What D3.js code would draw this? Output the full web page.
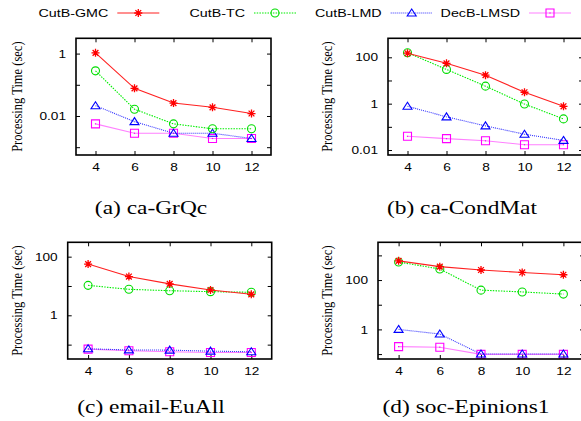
<!DOCTYPE html>
<html>
<head>
<meta charset="utf-8">
<script src="https://cdn.jsdelivr.net/npm/d3@7"></script>
<style>
body { margin: 0; background: white; }
svg { display: block; }
</style>
</head>
<body>
<svg id="chart" width="581" height="421"></svg>
<script>
// tree sizes on the x axis, same for every panel
var SIZES = [4, 6, 8, 10, 12];
var SERIES = ["CutB-GMC", "CutB-TC", "CutB-LMD", "DecB-LMSD"];
var CAPTIONS = ["(a) ca-GrQc", "(b) ca-CondMat", "(c) email-EuAll", "(d) soc-Epinions1"];

// processing time (sec), one row per series in SERIES order
var grqcTimes = [
    [1.06, 0.077, 0.026, 0.019, 0.012],
    [0.28, 0.0165, 0.0056, 0.0039, 0.0039],
    [0.0214, 0.0066, 0.0028, 0.0028, 0.0019],
    [0.0056, 0.0028, 0.0028, 0.0019, 0.0019]
];
var condmatTimes = [
    [150, 55, 17, 3.1, 0.77],
    [158, 30, 5.7, 0.96, 0.22],
    [0.77, 0.27, 0.11, 0.048, 0.026],
    [0.039, 0.031, 0.025, 0.017, 0.017]
];
var euallTimes = [
    [56, 21, 11.8, 7.3, 5.2],
    [10.5, 7.7, 6.9, 6.4, 6.1],
    [0.072, 0.066, 0.065, 0.06, 0.057],
    [0.07, 0.062, 0.057, 0.054, 0.054]
];
var epinionsTimes = [
    [600, 350, 255, 203, 164],
    [540, 280, 39, 33, 27],
    [1.0, 0.65, 0.1, 0.1, 0.1],
    [0.2, 0.19, 0.097, 0.097, 0.097]
];
var ALL_TIMES = [grqcTimes, condmatTimes, euallTimes, epinionsTimes];

var SX = 1.3,   // the source picture is stretched sideways
    SANS = "'Liberation Sans', Arial, sans-serif",
    SERIF = "'Liberation Serif', 'Times New Roman', serif",
    TICK = 4;

// frame boxes and log y ranges (exponents) for the four panels
var PANEL_BOX = [
    {left: 76, right: 271, top: 38.3, bottom: 155, ylo: -3.25, yhi: 0.49, labelX: 17, capX: 151, capY: 214},
    {left: 388, right: 583, top: 38.3, bottom: 155, ylo: -2.215, yhi: 2.82, labelX: 327, capX: 462, capY: 214},
    {left: 67.7, right: 271.7, top: 242.3, bottom: 359, ylo: -1.49, yhi: 2.49, labelX: 17, capX: 151, capY: 413},
    {left: 378, right: 584, top: 242.3, bottom: 359, ylo: -1.2, yhi: 3.53, labelX: 327, capX: 466, capY: 413}
];

var STYLES = [
    {color: "#ff0000", dash: null, marker: "star", lineColor: "#ff2020"},
    {color: "#00dd00", dash: "1.5,1.2", marker: "circle", lineColor: "#00ee00"},
    {color: "#0000ff", dash: "1,1", marker: "triangle", lineColor: "#3030ff"},
    {color: "#ff00ff", dash: null, marker: "square", lineColor: "#ff80ff"}
];

function markerPath(kind) {
    var s = 4;
    if (kind == "star") {
        var d = s * 0.72;
        return "M" + (-s) + ",0L" + s + ",0M0," + (-s) + "L0," + s +
            "M" + (-d) + "," + (-d) + "L" + d + "," + d +
            "M" + (-d) + "," + d + "L" + d + "," + (-d);
    }
    if (kind == "triangle") {
        return "M0," + (-s) + "L" + (s + 0.5) + "," + (s * 0.75) + "L" + (-s - 0.5) + "," + (s * 0.75) + "Z";
    }
    if (kind == "square") {
        return "M" + (-s) + "," + (-s) + "h" + (2 * s) + "v" + (2 * s) + "h" + (-2 * s) + "Z";
    }
    return null;
}

function drawMarker(g, kind, color, cx, cy) {
    if (kind == "circle") {
        g.append("circle")
            .attr("cx", cx)
            .attr("cy", cy)
            .attr("r", 4)
            .style("fill", "none")
            .style("stroke", color)
            .style("stroke-width", 1.1);
        return;
    }
    g.append("path")
        .attr("d", markerPath(kind))
        .attr("transform", "translate(" + cx + "," + cy + ")")
        .style("fill", "none")
        .style("stroke", color)
        .style("stroke-width", kind == "star" ? 1.3 : 1.1);
    if (kind == "square") {
        g.append("rect")
            .attr("x", cx - 0.6)
            .attr("y", cy - 0.6)
            .attr("width", 1.2)
            .attr("height", 1.2)
            .style("fill", color);
    }
}

function drawLegend(svg) {
    var legend = svg.append("g").attr("id", "legend");
    var textEnds = [108.3, 245, 381.7, 520];
    for (var i = 0; i < SERIES.length; i++) {
        var e = textEnds[i], st = STYLES[i];
        legend.append("text")
            .attr("transform", "translate(" + e + ",17) scale(" + SX + ",1)")
            .style("font-family", SANS)
            .style("font-size", "11px")
            .style("text-anchor", "end")
            .style("fill", "black")
            .text(SERIES[i]);
        legend.append("line")
            .attr("x1", e + 9)
            .attr("x2", e + 51)
            .attr("y1", 13)
            .attr("y2", 13)
            .style("stroke", st.lineColor)
            .style("stroke-width", 1.1)
            .style("stroke-dasharray", st.dash);
        drawMarker(legend, st.marker, st.color, e + 30, 13);
    }
}

function drawPanel(svg, p) {
    var box = PANEL_BOX[p],
        times = ALL_TIMES[p];
    var x = d3.scaleLinear()
        .domain([3, 13])
        .range([box.left, box.right]);
    var y = d3.scaleLog()
        .domain([Math.pow(10, box.ylo), Math.pow(10, box.yhi)])
        .range([box.bottom, box.top]);

    var decades = [];
    for (var k = Math.ceil(box.ylo); k <= Math.floor(box.yhi); k++) decades.push(+("1e" + k));
    var yFormat = function(v) {
        var k = Math.round(Math.log10(v));
        return k % 2 == 0 ? String(v) : "";
    };

    var g = svg.append("g").attr("class", "panel");

    var left = g.append("g")
        .attr("transform", "translate(" + box.left + ",0)")
        .call(d3.axisLeft(y).tickValues(decades).tickFormat(yFormat).tickSize(-TICK).tickPadding(10));
    var right = g.append("g")
        .attr("transform", "translate(" + box.right + ",0)")
        .call(d3.axisRight(y).tickValues(decades).tickFormat("").tickSize(-TICK));
    var bottom = g.append("g")
        .attr("transform", "translate(0," + box.bottom + ")")
        .call(d3.axisBottom(x).tickValues(SIZES).tickSize(-TICK).tickPadding(11));
    var top = g.append("g")
        .attr("transform", "translate(0," + box.top + ")")
        .call(d3.axisTop(x).tickValues(SIZES).tickFormat("").tickSize(-TICK));

    [left, right, bottom, top].forEach(function(a) {
        a.select(".domain").remove();
        a.selectAll(".tick line").style("stroke", "black").style("stroke-width", 1);
    });
    left.selectAll(".tick text")
        .attr("x", null)
        .attr("dy", "0.35em")
        .attr("transform", "translate(-10,0) scale(" + SX + ",1)")
        .style("font-family", SANS)
        .style("font-size", "10.5px")
        .style("fill", "black");
    bottom.selectAll(".tick text")
        .attr("y", null)
        .attr("dy", "0.35em")
        .attr("transform", "translate(0,12) scale(" + SX + ",1)")
        .style("font-family", SANS)
        .style("font-size", "10.5px")
        .style("fill", "black");

    // series lines and markers
    var line = d3.line()
        .x(function(d, i) { return x(SIZES[i]); })
        .y(function(d) { return y(d); });
    for (var s = times.length - 1; s >= 0; s--) {
        var st = STYLES[s];
        g.append("path")
            .attr("d", line(times[s]))
            .style("fill", "none")
            .style("stroke", st.lineColor)
            .style("stroke-width", 1.1)
            .style("stroke-dasharray", st.dash);
        for (var i = 0; i < SIZES.length; i++) {
            drawMarker(g, st.marker, st.color, x(SIZES[i]), y(times[s][i]));
        }
    }

    g.append("rect")
        .attr("x", box.left)
        .attr("y", box.top)
        .attr("width", box.right - box.left)
        .attr("height", box.bottom - box.top)
        .style("fill", "none")
        .style("stroke", "black")
        .style("stroke-width", 1.6);

    g.append("text")
        .attr("transform", "translate(" + box.labelX + "," + ((box.top + box.bottom) / 2) + ") rotate(-90) scale(1,1.15)")
        .attr("dy", "0.32em")
        .style("font-family", SERIF)
        .style("font-size", "12.5px")
        .style("text-anchor", "middle")
        .style("fill", "black")
        .text("Processing Time (sec)");

    g.append("text")
        .attr("transform", "translate(" + box.capX + "," + box.capY + ") scale(" + SX + ",1)")
        .style("font-family", SERIF)
        .style("font-size", "18px")
        .style("text-anchor", "middle")
        .style("fill", "black")
        .text(CAPTIONS[p]);
}

var svg = d3.select("#chart");
svg.append("rect").attr("width", 581).attr("height", 421).style("fill", "white");
drawLegend(svg);
for (var p = 0; p < PANEL_BOX.length; p++) drawPanel(svg, p);
</script>
</body>
</html>
